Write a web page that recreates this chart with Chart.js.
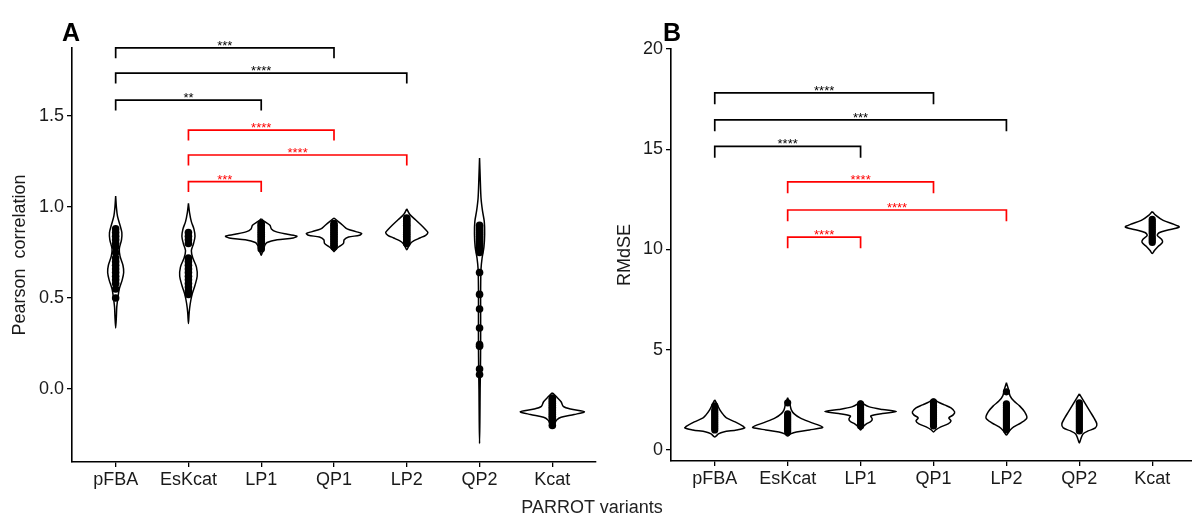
<!DOCTYPE html>
<html>
<head>
<meta charset="utf-8">
<script src="https://cdn.jsdelivr.net/npm/chart.js@4.4.1/dist/chart.umd.min.js"></script>
<style>
  html, body { margin: 0; padding: 0; background: #fff; overflow: hidden; }
  #wrap { position: relative; width: 1192px; height: 520px; overflow: hidden; font-family: "Liberation Sans", Arial, sans-serif; }
  canvas { position: absolute; top: 0; }
  #cA { left: 0; }
  #cB { left: 600px; }
  .tag { position: absolute; top: 20px; font-weight: bold; font-size: 25px; line-height: 25px; color: #000; }
  #xt { position: absolute; left: 472px; width: 240px; top: 498px; text-align: center; font-size: 18px; line-height: 18px; color: #222; }
</style>
</head>
<body>
<div id="wrap">
  <canvas id="cA" width="600" height="520"></canvas>
  <canvas id="cB" width="600" height="520"></canvas>
  <div class="tag" style="left:62px">A</div>
  <div class="tag" style="left:663px">B</div>
  <div id="xt">PARROT variants</div>
</div>
<script>
const FONT = '"Liberation Sans", Arial, sans-serif';
const categories = ['pFBA', 'EsKcat', 'LP1', 'QP1', 'LP2', 'QP2', 'Kcat'];

// ─── A : Pearson correlation ──────────────────────────────
// violin outline: [value, half width in category units]
const pearsonPFBA   = [[1.06,0],[1.0,0.01],[0.95,0.025],[0.9,0.06],[0.86,0.085],[0.82,0.08],[0.77,0.05],[0.73,0.06],[0.68,0.1],[0.64,0.11],[0.6,0.09],[0.55,0.05],[0.5,0.03],[0.45,0.015],[0.4,0.01],[0.335,0]];
const pearsonEsKcat = [[1.02,0],[0.97,0.015],[0.92,0.04],[0.88,0.075],[0.84,0.09],[0.8,0.07],[0.76,0.04],[0.72,0.06],[0.67,0.11],[0.62,0.12],[0.57,0.09],[0.52,0.05],[0.47,0.025],[0.42,0.01],[0.36,0]];
const pearsonLP1    = [[0.935,0],[0.92,0.05],[0.9,0.12],[0.88,0.14],[0.865,0.2],[0.85,0.36],[0.84,0.49],[0.83,0.44],[0.82,0.22],[0.805,0.08],[0.79,0.05],[0.77,0.035],[0.75,0.015],[0.735,0]];
const pearsonQP1    = [[0.94,0],[0.92,0.06],[0.9,0.12],[0.88,0.18],[0.865,0.3],[0.855,0.38],[0.845,0.35],[0.835,0.2],[0.82,0.14],[0.8,0.13],[0.785,0.08],[0.77,0.03],[0.755,0]];
const pearsonLP2    = [[0.99,0],[0.96,0.04],[0.93,0.12],[0.9,0.2],[0.875,0.26],[0.86,0.29],[0.845,0.26],[0.83,0.18],[0.815,0.1],[0.8,0.05],[0.78,0.02],[0.765,0]];
const pearsonQP2    = [[1.27,0],[1.15,0.01],[1.05,0.02],[0.98,0.04],[0.92,0.065],[0.85,0.07],[0.78,0.06],[0.72,0.035],[0.66,0.02],[0.55,0.015],[0.4,0.015],[0.25,0.015],[0.1,0.012],[0.0,0.008],[-0.15,0.005],[-0.3,0]];
const pearsonKcat   = [[-0.02,0],[-0.04,0.05],[-0.07,0.12],[-0.095,0.15],[-0.11,0.25],[-0.125,0.44],[-0.14,0.3],[-0.155,0.12],[-0.17,0.06],[-0.19,0.03],[-0.21,0]];

const pearsonPtsPFBA   = [0.5,0.55,0.58,0.6,0.62,0.64,0.66,0.68,0.7,0.72,0.75,0.78,0.8,0.82,0.84,0.86,0.88];
const pearsonPtsEsKcat = [0.52,0.54,0.56,0.58,0.6,0.62,0.64,0.66,0.68,0.7,0.72,0.8,0.82,0.84,0.86];
const pearsonPtsLP1    = [0.77,0.8,0.81,0.82,0.83,0.84,0.85,0.86,0.87,0.88,0.89,0.9,0.91];
const pearsonPtsQP1    = [0.78,0.79,0.8,0.81,0.82,0.83,0.84,0.85,0.86,0.87,0.88,0.89,0.9,0.91];
const pearsonPtsLP2    = [0.8,0.81,0.82,0.83,0.84,0.85,0.86,0.87,0.88,0.89,0.9,0.91,0.92,0.93,0.94];
const pearsonPtsQP2    = [0.08,0.11,0.235,0.245,0.335,0.44,0.52,0.64,0.75,0.77,0.78,0.79,0.8,0.81,0.82,0.83,0.84,0.85,0.86,0.87,0.88,0.89,0.9];
const pearsonPtsKcat   = [-0.2,-0.18,-0.16,-0.15,-0.14,-0.13,-0.12,-0.11,-0.1,-0.09,-0.08,-0.07,-0.06,-0.05];

const pearsonTicks = ['0.0', '0.5', '1.0', '1.5'];
// [from, to, height, label, colour]
const pearsonBrackets = [
  [0, 3, 1.875, '***',  '#000'],
  [0, 4, 1.736, '****', '#000'],
  [0, 2, 1.588, '**',   '#000'],
  [1, 3, 1.423, '****', '#f00'],
  [1, 4, 1.286, '****', '#f00'],
  [1, 2, 1.140, '***',  '#f00'],
];

// ─── B : RMdSE ────────────────────────────────────────────
const rmdsePFBA   = [[2.5,0],[2.3,0.03],[2.0,0.07],[1.75,0.12],[1.6,0.16],[1.4,0.28],[1.2,0.38],[1.1,0.41],[1.0,0.3],[0.9,0.12],[0.8,0.05],[0.65,0]];
const rmdseEsKcat = [[2.6,0],[2.3,0.03],[2.0,0.05],[1.8,0.09],[1.6,0.17],[1.4,0.3],[1.2,0.45],[1.12,0.48],[1.0,0.3],[0.9,0.12],[0.8,0.04],[0.7,0]];
const rmdseLP1    = [[2.45,0],[2.3,0.04],[2.15,0.12],[2.02,0.3],[1.92,0.49],[1.82,0.3],[1.7,0.14],[1.55,0.16],[1.42,0.14],[1.3,0.08],[1.15,0.03],[1.0,0]];
const rmdseQP1    = [[2.55,0],[2.4,0.06],[2.25,0.15],[2.1,0.24],[1.9,0.29],[1.75,0.27],[1.6,0.21],[1.45,0.24],[1.3,0.2],[1.15,0.1],[1.0,0.03],[0.9,0]];
const rmdseLP2    = [[3.35,0],[3.0,0.03],[2.7,0.05],[2.45,0.1],[2.2,0.18],[1.9,0.25],[1.6,0.28],[1.35,0.2],[1.15,0.1],[0.95,0.04],[0.75,0]];
const rmdseQP2    = [[2.8,0],[2.5,0.05],[2.2,0.1],[1.9,0.15],[1.6,0.2],[1.3,0.24],[1.1,0.22],[0.95,0.12],[0.8,0.05],[0.55,0.02],[0.35,0]];
const rmdseKcat   = [[11.9,0],[11.7,0.05],[11.45,0.15],[11.25,0.3],[11.12,0.37],[11.0,0.25],[10.85,0.1],[10.7,0.07],[10.5,0.13],[10.35,0.14],[10.15,0.08],[9.95,0.03],[9.8,0]];

const rmdsePtsPFBA   = [1.0,1.1,1.2,1.3,1.4,1.5,1.6,1.7,1.8,1.9,2.0,2.2];
const rmdsePtsEsKcat = [0.9,1.0,1.1,1.2,1.3,1.4,1.5,1.6,1.7,1.8,2.35];
const rmdsePtsLP1    = [1.2,1.3,1.4,1.5,1.6,1.7,1.8,1.9,2.0,2.1,2.2,2.3];
const rmdsePtsQP1    = [1.2,1.3,1.4,1.5,1.6,1.7,1.8,1.9,2.0,2.1,2.2,2.3,2.4];
const rmdsePtsLP2    = [1.0,1.1,1.2,1.3,1.4,1.5,1.6,1.7,1.8,1.9,2.0,2.1,2.2,2.3,2.9];
const rmdsePtsQP2    = [0.95,1.05,1.15,1.25,1.35,1.45,1.55,1.65,1.75,1.85,1.95,2.05,2.15,2.25,2.35];
const rmdsePtsKcat   = [10.35,10.45,10.55,10.65,10.8,10.9,11.0,11.1,11.2,11.3,11.4,11.5];

const rmdseTicks = ['0', '5', '10', '15', '20'];
const rmdseBrackets = [
  [0, 3, 17.81, '****', '#000'],
  [0, 4, 16.46, '***',  '#000'],
  [0, 2, 15.14, '****', '#000'],
  [1, 3, 13.37, '****', '#f00'],
  [1, 4, 11.97, '****', '#f00'],
  [1, 2, 10.62, '****', '#f00'],
];

// ─── Construção dos datasets ──────────────────────────────
function buildDatasets(shapes, points, brackets, legDrop, dotR) {
  const sets = [];
  shapes.forEach((prof, i) => {
    const right = prof.map(([y, w]) => ({ x: i + w, y }));
    const left  = prof.slice(1, -1).reverse().map(([y, w]) => ({ x: i - w, y }));
    sets.push({
      type: 'line', data: [...right, ...left, right[0]],
      borderColor: '#000', borderWidth: 1.5, pointRadius: 0, tension: 0.3, fill: false, order: 2, clip: false,
    });
  });
  points.forEach((vals, i) => {
    sets.push({
      type: 'scatter', data: vals.map(y => ({ x: i, y })),
      pointRadius: dotR, backgroundColor: '#000', borderWidth: 0, order: 1, clip: false,
    });
  });
  brackets.forEach(([a, b, h, , col]) => {
    sets.push({
      type: 'line',
      data: [{ x: a, y: h - legDrop }, { x: a, y: h }, { x: b, y: h }, { x: b, y: h - legDrop }],
      borderColor: col, borderWidth: 1.7, pointRadius: 0, tension: 0, fill: false, order: 0, clip: false,
    });
  });
  return sets;
}

// rótulos dos colchetes (asteriscos)
const bracketLabels = {
  id: 'bracketLabels',
  afterDatasetsDraw(chart, args, opts) {
    const { ctx, scales: { x, y } } = chart;
    ctx.save();
    ctx.font = '13px ' + FONT;
    ctx.textAlign = 'center';
    ctx.textBaseline = 'alphabetic';
    (opts.items || []).forEach(([a, b, h, label, col]) => {
      ctx.fillStyle = col;
      ctx.fillText(label, x.getPixelForValue((a + b) / 2), y.getPixelForValue(h) + 2);
    });
    ctx.restore();
  }
};

function makeChart(id, cfg) {
  return new Chart(document.getElementById(id), {
    type: 'scatter',
    data: { datasets: buildDatasets(cfg.shapes, cfg.points, cfg.brackets, cfg.legDrop, cfg.dotR) },
    plugins: [bracketLabels],
    options: {
      responsive: false,
      animation: false,
      events: [],
      layout: { padding: { top: cfg.top, left: 0, right: 0, bottom: 0 } },
      plugins: {
        legend: { display: false },
        tooltip: { enabled: false },
        bracketLabels: { items: cfg.brackets },
      },
      scales: {
        x: {
          type: 'linear', min: -0.6, max: 6.6,
          afterFit: s => { s.height = 520 - cfg.bottom; },
          afterBuildTicks: s => { s.ticks = categories.map((c, i) => ({ value: i })); },
          ticks: { callback: v => categories[v], font: { size: 18, family: FONT }, color: '#1a1a1a', padding: 2, maxRotation: 0, autoSkip: false },
          grid: { display: true, drawOnChartArea: false, drawTicks: true, tickLength: 5, color: '#000', lineWidth: 1.3 },
          border: { display: true, color: '#000', width: 1.6 },
        },
        y: {
          type: 'linear', min: cfg.yMin, max: cfg.yMax,
          afterFit: s => { s.width = cfg.axisLeft; },
          afterBuildTicks: s => { s.ticks = cfg.ticks.map(t => ({ value: parseFloat(t) })); },
          ticks: { callback: (v, i) => cfg.ticks[i], font: { size: 18, family: FONT }, color: '#1a1a1a', padding: 3 },
          grid: { display: true, drawOnChartArea: false, drawTicks: true, tickLength: 5, color: '#000', lineWidth: 1.3 },
          border: { display: true, color: '#000', width: 1.6 },
          title: { display: true, text: cfg.title, font: { size: 18, family: FONT }, color: '#1a1a1a', padding: { top: cfg.titlePad, bottom: 0 } },
        },
      },
    },
  });
}

makeChart('cA', {
  shapes: [pearsonPFBA, pearsonEsKcat, pearsonLP1, pearsonQP1, pearsonLP2, pearsonQP2, pearsonKcat],
  points: [pearsonPtsPFBA, pearsonPtsEsKcat, pearsonPtsLP1, pearsonPtsQP1, pearsonPtsLP2, pearsonPtsQP2, pearsonPtsKcat],
  brackets: pearsonBrackets, legDrop: 0.057, dotR: 3.8,
  ticks: pearsonTicks, yMin: -0.401, yMax: 1.874,
  title: 'Pearson  correlation', titlePad: 9,
  top: 48, bottom: 462, axisLeft: 72,
});

makeChart('cB', {
  shapes: [rmdsePFBA, rmdseEsKcat, rmdseLP1, rmdseQP1, rmdseLP2, rmdseQP2, rmdseKcat],
  points: [rmdsePtsPFBA, rmdsePtsEsKcat, rmdsePtsLP1, rmdsePtsQP1, rmdsePtsLP2, rmdsePtsQP2, rmdsePtsKcat],
  brackets: rmdseBrackets, legDrop: 0.56, dotR: 3.6,
  ticks: rmdseTicks, yMin: -0.55, yMax: 20,
  title: 'RMdSE', titlePad: 14,
  top: 49, bottom: 461, axisLeft: 71,
});
</script>
</body>
</html>
